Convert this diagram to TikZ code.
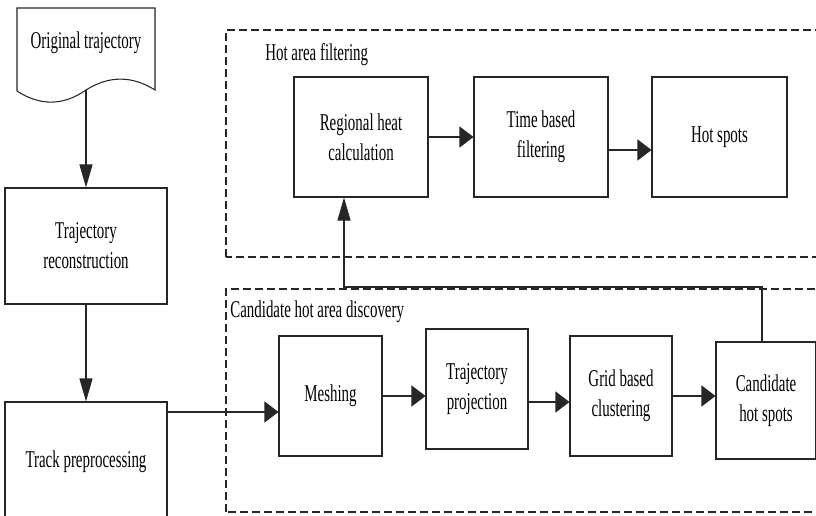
\documentclass[tikz,border=0pt]{standalone}
\usepackage{fontspec}
\setmainfont{Liberation Serif}[FakeStretch=0.62]
\usetikzlibrary{arrows.meta}
\usetikzlibrary{calc}

\begin{document}
\begin{tikzpicture}[
    txt/.style={font=\fontsize{13.7}{17}\selectfont, align=center},
    box/.style={draw=black!85, line width=0.6pt, txt, minimum width=#1,
        minimum height=2.4cm, inner sep=1pt},
    box/.default=2.04cm,
    arrh/.style={-{Triangle[length=0.28cm,width=0.42cm]}, line width=0.6pt, black!85},
    arrv/.style={-{Triangle[length=0.46cm,width=0.26cm]}, line width=0.6pt, black!85},
    grp/.style={line width=0.6pt, black!85, dash pattern=on 0.16cm off 0.08cm}]

    % === Area del disegno ===
    \path[use as bounding box, fill=white] (0,0) rectangle (16.32,10.30);

    % === 1. Riquadri tratteggiati (gruppi) ===
    \draw[grp] (4.52,5.16) rectangle (16.60,9.70);
    \draw[grp] (4.52,0.06) rectangle (16.60,4.52);
    \node[txt, anchor=west, inner sep=0pt] (hotlbl) at (5.30,9.20) {Hot area filtering};
    \node[txt, anchor=west, inner sep=0pt] (candlbl) at (4.60,4.06) {Candidate hot area discovery};

    % === 2. Documento iniziale ===
    \draw[line width=0.6pt, black!85] (0.34,8.48) -- (0.34,10.14) -- (3.10,10.14) -- (3.10,8.50)
        .. controls (2.64,8.79) and (2.18,8.79) .. (1.72,8.50)
        .. controls (1.26,8.18) and (0.80,8.18) .. (0.34,8.48);
    \node[txt] (orig) at (1.72,9.44) {Original trajectory};
    \coordinate (origb) at (1.72,8.50);

    % === 3. Blocchi ===
    \node[box=3.24cm, minimum height=2.32cm] (recon) at (1.72,5.38) {Trajectory\\reconstruction};
    \node[box=3.24cm] (prep) at (1.72,1.06) {Track preprocessing};

    \node[box=2.06cm] (mesh) at (6.61,2.38) {Meshing};
    \node[box] (proj) at (9.54,2.52) {Trajectory\\projection};
    \node[box] (grid) at (12.42,2.38) {Grid based\\clustering};
    \node[box=2.0cm, minimum height=2.34cm] (cand) at (15.32,2.29) {Candidate\\hot spots};

    \node[box=2.68cm] (heat) at (7.22,7.56) {Regional heat\\calculation};
    \node[box=2.68cm] (filt) at (10.82,7.56) {Time based\\filtering};
    \node[box=2.70cm] (hot) at (14.39,7.56) {Hot spots};

    % === 4. Frecce ===
    \draw[arrv] (origb) -- (recon.north);
    \draw[arrv] (recon) -- (prep);

    \coordinate (lvlprep) at (0,2.06);
    \coordinate (lvlproj) at (0,2.26);
    \coordinate (lvlfilt) at (0,7.30);
    \draw[arrh] (prep.east |- lvlprep) -- (mesh.west |- lvlprep);
    \draw[arrh] (mesh) -- (proj.west |- mesh);
    \draw[arrh] (proj.east |- lvlproj) -- (grid.west |- lvlproj);
    \draw[arrh] (grid) -- (cand.west |- grid);

    \draw[arrh] (heat) -- (filt);
    \draw[arrh] (filt.east |- lvlfilt) -- (hot.west |- lvlfilt);

    % Ritorno verso il calcolo del calore
    \coordinate (fbup) at (15.24,4.56);
    \coordinate (fbleft) at (6.88,4.56);
    \draw[arrv] (fbup |- cand.north) -- (fbup) -- (fbleft) -- (fbleft |- heat.south);

\end{tikzpicture}
\end{document}
